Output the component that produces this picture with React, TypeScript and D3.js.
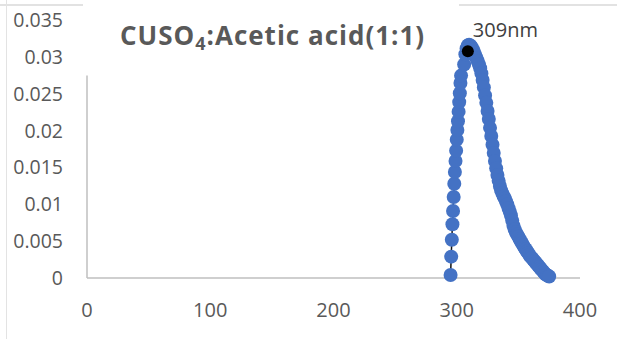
import React from "react";
import * as d3 from "d3";

const W = 617;
const H = 339;

// wavelength (nm) and absorbance
const wavelengths = [
  295, 295.5, 296, 296.5, 297, 297.5, 298, 298.5, 299, 299.5, 300, 300.5,
  301, 301.5, 302, 302.5, 303, 303.5,
  306, 307, 308, 309, 310, 311, 312, 313, 314, 315, 316, 317, 318, 319, 320,
  321, 322, 323, 324, 325, 326, 327, 328, 329, 330, 331, 332, 333, 334, 335,
  336, 337, 338, 339, 340, 341, 342, 343, 344, 345, 346, 347, 348, 349, 350,
  351, 352, 353, 354, 355, 356, 357, 358, 359, 360, 361, 362, 363, 364, 365,
  366, 367, 368, 369, 370, 371, 372, 373, 374, 375,
];
const absorbance = [
  0.0004, 0.0029, 0.0052, 0.0073, 0.0091, 0.011, 0.0128, 0.0144, 0.0159,
  0.0173, 0.0188, 0.0201, 0.0213, 0.0226, 0.0239, 0.0251, 0.0265, 0.0275,
  0.029, 0.0304, 0.0312, 0.0316, 0.0317, 0.0316, 0.0314, 0.0311, 0.0307,
  0.0303, 0.0299, 0.0295, 0.029, 0.0285, 0.0278, 0.0269, 0.0259, 0.0248,
  0.0238, 0.0227, 0.0216, 0.0204, 0.0193, 0.0181, 0.017, 0.0159, 0.0149,
  0.014, 0.0132, 0.0125, 0.0119, 0.0115, 0.0111, 0.0108, 0.0104, 0.01,
  0.0095, 0.009, 0.0085, 0.0078, 0.0071, 0.0066, 0.0062, 0.0059, 0.0056,
  0.0053, 0.005, 0.0047, 0.0044, 0.0041, 0.0039, 0.0036, 0.0034, 0.0031,
  0.0029, 0.0027, 0.0025, 0.0023, 0.0021, 0.0019, 0.0017, 0.0015, 0.0013,
  0.0011, 0.0009, 0.0007, 0.0005, 0.0004, 0.0003, 0.0002,
];

const xTicks = [0, 100, 200, 300, 400];
const yTicks = [0, 0.005, 0.01, 0.015, 0.02, 0.025, 0.03, 0.035];

const peakWavelength = 309;
const peakAbsorbance = 0.0308;
const peakLabel = "309nm";

const FONT = "'Open Sans', sans-serif";
const TEXT = "#595959";
const BLUE = "#4472C4";

export default function App() {
  const x = d3.scaleLinear().domain([0, 400]).range([87, 580]);
  const y = d3.scaleLinear().domain([0, 0.035]).range([278, 20.4]);

  const points = wavelengths.map((w, i) => ({ w, a: absorbance[i] }));
  const line = d3
    .line<{ w: number; a: number }>()
    .x((d) => x(d.w))
    .y((d) => y(d.a));

  return (
    <svg
      width={W}
      height={H}
      style={{ position: "absolute", left: 0, top: 0, background: "#fff" }}
    >
      {/* frame remnants */}
      <line x1={0} x2={83} y1={5} y2={5} stroke="#d9d9d9" strokeWidth={1.5} />
      <line x1={459} x2={W} y1={5} y2={5} stroke="#d9d9d9" strokeWidth={1.5} />
      <line x1={6.5} x2={6.5} y1={0} y2={H} stroke="#e3e3e3" strokeWidth={1} />

      {/* axes */}
      <line x1={x(0)} x2={x(400)} y1={y(0)} y2={y(0)} stroke="#bfbfbf" strokeWidth={1.5} />
      <line x1={x(0)} x2={x(0)} y1={y(0)} y2={y(0.0275)} stroke="#bfbfbf" strokeWidth={1.5} />

      {yTicks.map((t) => (
        <text
          key={t}
          x={63}
          y={y(t)}
          dy="0.35em"
          textAnchor="end"
          fontFamily={FONT}
          fontSize={19.5}
          fill={TEXT}
        >
          {t}
        </text>
      ))}
      {xTicks.map((t) => (
        <text
          key={t}
          x={x(t)}
          y={317}
          textAnchor="middle"
          fontFamily={FONT}
          fontSize={20}
          fill={TEXT}
        >
          {t}
        </text>
      ))}

      {/* title */}
      <text
        x={120}
        y={45}
        fontFamily={FONT}
        fontWeight="bold"
        fontSize={26}
        letterSpacing={1}
        fill={TEXT}
      >
        CUSO
        <tspan fontSize={18} dy={5}>4</tspan>
        <tspan dy={-5}>:Acetic acid(1:1)</tspan>
      </text>

      {/* series */}
      <path d={line(points) || ""} fill="none" stroke="#111" strokeWidth={1.5} />
      {points.map((p, i) => (
        <circle key={i} cx={x(p.w)} cy={y(p.a)} r={7} fill={BLUE} />
      ))}

      {/* peak marker */}
      <circle cx={x(peakWavelength)} cy={y(peakAbsorbance)} r={6} fill="#000" />
      <text
        x={x(peakWavelength) + 5}
        y={y(peakAbsorbance) - 14}
        fontFamily={FONT}
        fontSize={20}
        fill="#404040"
      >
        {peakLabel}
      </text>
    </svg>
  );
}
